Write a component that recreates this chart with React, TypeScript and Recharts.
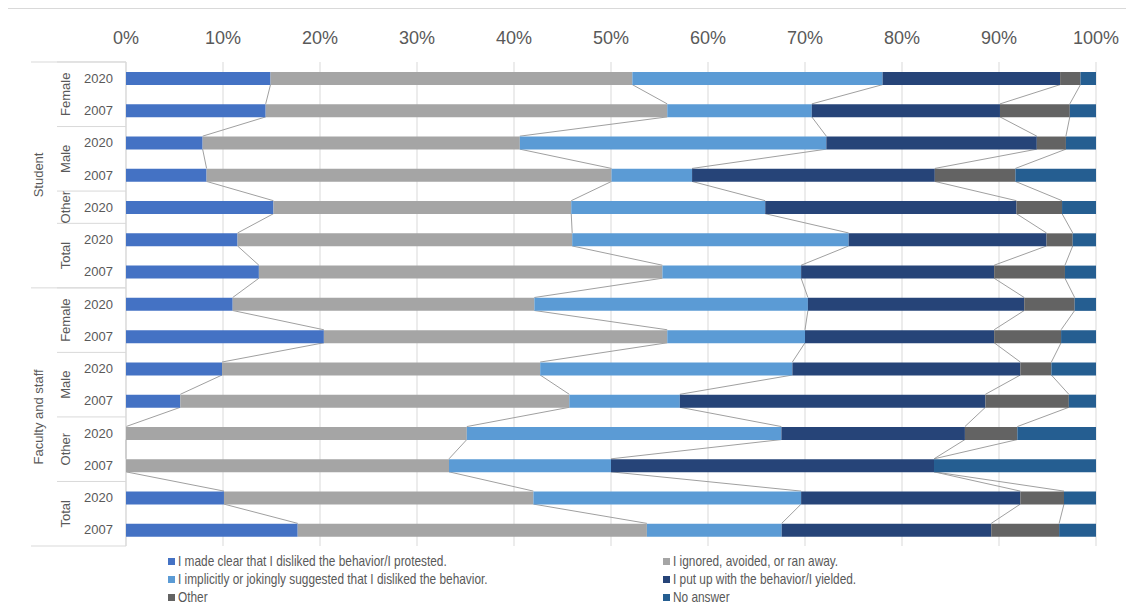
import { BarChart, Bar, XAxis, YAxis, CartesianGrid, usePlotArea } from 'recharts';

const orgs = ['Student', 'Student', 'Student', 'Student', 'Student', 'Student', 'Student',
  'Faculty and staff', 'Faculty and staff', 'Faculty and staff', 'Faculty and staff',
  'Faculty and staff', 'Faculty and staff', 'Faculty and staff', 'Faculty and staff'];
const genders = ['Female', 'Female', 'Male', 'Male', 'Other', 'Total', 'Total',
  'Female', 'Female', 'Male', 'Male', 'Other', 'Other', 'Total', 'Total'];
const years = ['2020', '2007', '2020', '2007', '2020', '2020', '2007',
  '2020', '2007', '2020', '2007', '2020', '2007', '2020', '2007'];

const protested = [14.9, 14.4, 7.9, 8.3, 15.2, 11.5, 13.7, 11.0, 20.4, 9.9, 5.6, 0, 0, 10.1, 17.7];
const ignored = [37.3, 41.4, 32.7, 41.7, 30.7, 34.5, 41.6, 31.1, 35.4, 32.8, 40.1, 35.1, 33.3, 31.9, 36.0];
const implicit = [25.8, 14.9, 31.6, 8.3, 20.0, 28.5, 14.3, 28.2, 14.2, 26.0, 11.4, 32.4, 16.7, 27.6, 13.9];
const putUp = [18.3, 19.4, 21.7, 25.0, 25.9, 20.4, 19.9, 22.3, 19.5, 23.5, 31.5, 18.9, 33.3, 22.6, 21.6];
const other = [2.1, 7.2, 3.0, 8.3, 4.7, 2.7, 7.3, 5.2, 6.9, 3.2, 8.6, 5.4, 0, 4.5, 7.0];
const noAnswer = [1.6, 2.7, 3.1, 8.3, 3.5, 2.4, 3.2, 2.2, 3.6, 4.6, 2.8, 8.1, 16.7, 3.3, 3.8];

const xTicks = [0, 0.1, 0.2, 0.3, 0.4, 0.5, 0.6, 0.7, 0.8, 0.9, 1];

const series = [
  { key: 's1', name: 'I made clear that I disliked the behavior/I protested.', color: '#4472C4', values: protested },
  { key: 's2', name: 'I ignored, avoided, or ran away.', color: '#A5A5A5', values: ignored },
  { key: 's3', name: 'I implicitly or jokingly suggested that I disliked the behavior.', color: '#5B9BD5', values: implicit },
  { key: 's4', name: 'I put up with the behavior/I yielded.', color: '#264478', values: putUp },
  { key: 's5', name: 'Other', color: '#636363', values: other },
  { key: 's6', name: 'No answer', color: '#255E91', values: noAnswer },
];

const data = years.map((year, i) => {
  const row: Record<string, any> = { id: `${orgs[i]}|${genders[i]}|${year}|${i}` };
  series.forEach((s) => { row[s.key] = s.values[i]; });
  return row;
});

const FONT = '"Liberation Sans", Arial, sans-serif';
const BAR_SIZE = 13;
const LINE_GRAY = '#D9D9D9';

// runs of equal labels -> [label, start, end)
function runs(labels: string[], breaks: number[] = []) {
  const out: { label: string; start: number; end: number }[] = [];
  labels.forEach((l, i) => {
    const last = out[out.length - 1];
    if (last && last.label === l && !breaks.includes(i)) last.end = i + 1;
    else out.push({ label: l, start: i, end: i + 1 });
  });
  return out;
}

function Decorations() {
  const area = usePlotArea();
  if (!area) return null;
  const { x: left, y: top, width, height } = area;
  const n = years.length;
  const step = height / n;

  // cumulative share per row for series lines
  const cum = years.map((_, i) => {
    const total = series.reduce((a, s) => a + s.values[i], 0);
    let acc = 0;
    return series.map((s) => { acc += s.values[i]; return acc / total; });
  });

  const orgRuns = runs(orgs);
  const orgStarts = orgRuns.map((r) => r.start);
  const genderRuns = runs(genders, orgStarts);

  const lines = [];
  for (let i = 0; i < n - 1; i++) {
    for (let k = 0; k < series.length - 1; k++) {
      lines.push(
        <line
          key={`sl-${i}-${k}`}
          x1={left + cum[i][k] * width}
          y1={top + (i + 0.5) * step + BAR_SIZE / 2}
          x2={left + cum[i + 1][k] * width}
          y2={top + (i + 1.5) * step - BAR_SIZE / 2}
          stroke="#A0A0A0"
          strokeWidth={1}
        />
      );
    }
  }

  return (
    <g>
      {lines}
      <line x1={left} x2={left} y1={top} y2={top + height} stroke={LINE_GRAY} />
      {genderRuns.map((r) => (
        <line key={`gb-${r.start}`} x1={left - 69} x2={left} y1={top + r.start * step} y2={top + r.start * step} stroke={LINE_GRAY} />
      ))}
      {orgRuns.map((r) => (
        <line key={`ob-${r.start}`} x1={left - 95} x2={left} y1={top + r.start * step} y2={top + r.start * step} stroke={LINE_GRAY} />
      ))}
      <line x1={left - 95} x2={left} y1={top + height} y2={top + height} stroke={LINE_GRAY} />
      {genderRuns.map((r) => {
        const cy = top + ((r.start + r.end) / 2) * step;
        const cx = left - 60;
        return (
          <text key={`gl-${r.start}`} x={cx} y={cy} transform={`rotate(-90 ${cx} ${cy})`}
            textAnchor="middle" dominantBaseline="central" fontSize={13} fill="#595959" fontFamily={FONT}>
            {r.label}
          </text>
        );
      })}
      {orgRuns.map((r) => {
        const cy = top + ((r.start + r.end) / 2) * step;
        const cx = left - 87;
        return (
          <text key={`ol-${r.start}`} x={cx} y={cy} transform={`rotate(-90 ${cx} ${cy})`}
            textAnchor="middle" dominantBaseline="central" fontSize={13} fill="#595959" fontFamily={FONT}>
            {r.label}
          </text>
        );
      })}
    </g>
  );
}

function LegendBox() {
  return (
    <div
      style={{
        position: 'absolute',
        left: 160,
        top: 544,
        display: 'grid',
        gridTemplateColumns: '495px 400px',
        fontFamily: FONT,
        fontSize: 15,
        color: '#595959',
        lineHeight: '18px',
      }}
    >
      {series.map((s) => (
        <div key={s.key} style={{ display: 'flex', alignItems: 'center', whiteSpace: 'nowrap', height: 18 }}>
          <span style={{ width: 7, height: 7, background: s.color, display: 'inline-block', marginRight: 3, flex: 'none' }} />
          <span style={{ display: 'inline-block', transform: 'scaleX(0.79)', transformOrigin: 'left center' }}>{s.name}</span>
        </div>
      ))}
    </div>
  );
}

export default function App() {
  return (
    <div style={{ position: 'relative', width: 1126, height: 600, fontFamily: FONT }}>
      <div style={{ position: 'absolute', left: -1, top: 0, width: 1127, height: 600, borderLeft: '1px solid #D9D9D9', borderTop: '1px solid #D9D9D9' }} />
      <div style={{ position: 'absolute', left: 0, top: 0 }}>
        <BarChart
          width={1120}
          height={545}
          data={data}
          layout="vertical"
          stackOffset="expand"
          margin={{ top: 24, right: 32, bottom: 7, left: 0 }}
          style={{ fontFamily: FONT }}
        >
          <CartesianGrid horizontal={false} stroke={LINE_GRAY} />
          <XAxis
            type="number"
            orientation="top"
            domain={[0, 1]}
            ticks={xTicks}
            tickFormatter={(v: number) => `${Math.round(v * 100)}%`}
            axisLine={false}
            tickLine={false}
            tickSize={0}
            tickMargin={18}
            height={30}
            tick={{ fontSize: 18, fill: '#595959' }}
          />
          <YAxis
            type="category"
            dataKey="id"
            width={118}
            interval={0}
            axisLine={false}
            tickLine={false}
            tickSize={0}
            tickMargin={13}
            tickFormatter={(_v: string, i: number) => years[i]}
            tick={{ fontSize: 13, fill: '#595959' }}
          />
          {series.map((s) => (
            <Bar
              key={s.key}
              dataKey={s.key}
              name={s.name}
              stackId="a"
              fill={s.color}
              barSize={BAR_SIZE}
              isAnimationActive={false}
            />
          ))}
          <Decorations />
        </BarChart>
      </div>
      <LegendBox />
    </div>
  );
}
